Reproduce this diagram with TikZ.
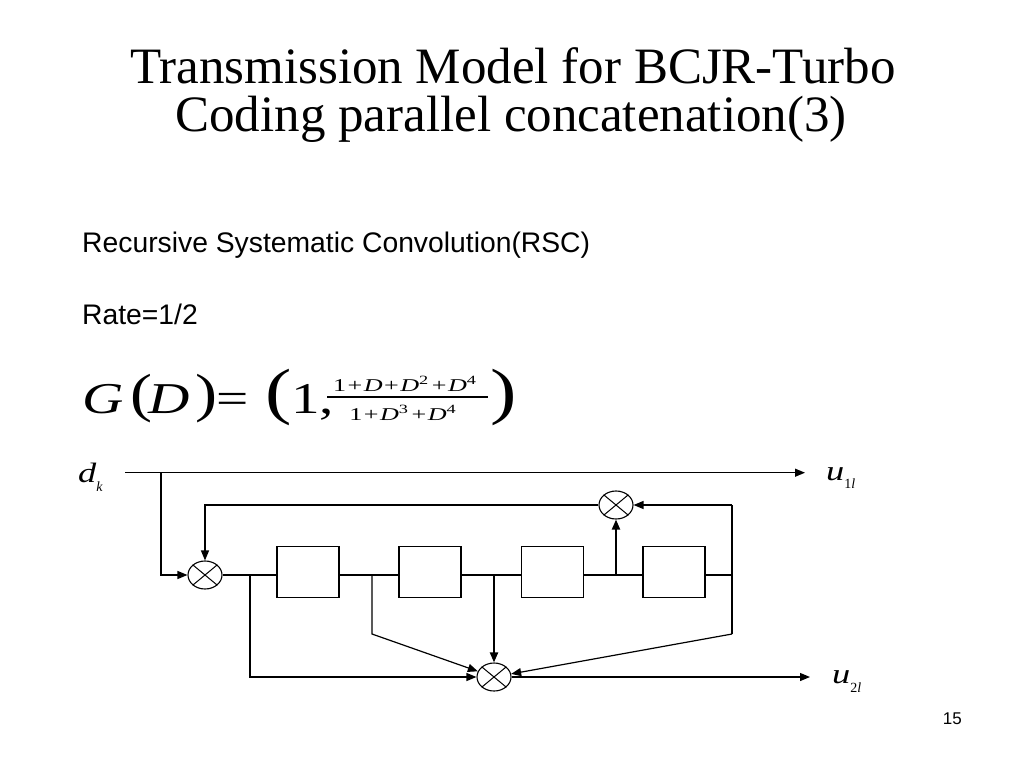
\documentclass[tikz,border=0pt]{standalone}
\usepackage{fontspec}
\setmainfont{Liberation Serif}
\newfontfamily\arialf{Liberation Sans}
\usepackage{graphicx}
\usetikzlibrary{shapes.geometric,arrows.meta}
\newcommand{\eqf}{\fontsize{44}{44}\selectfont}
\newcommand{\frf}{\fontsize{18}{18}\selectfont}
\newcommand{\lblf}{\fontsize{28}{28}\selectfont}
\newcommand{\subf}{\fontsize{14}{14}\selectfont}
\begin{document}
\begin{tikzpicture}[x=1pt,y=-1pt,
  wire/.style={line width=1.2pt, draw=black},
  thickwire/.style={line width=2pt, draw=black},
  arr/.style={-{Triangle[length=10pt,width=8pt]}},
  xorop/.style={draw, ellipse, line width=1.1pt, minimum width=34pt, minimum height=28pt, inner sep=0pt},
  reg/.style={draw, rectangle, line width=1.4pt, minimum width=62pt, minimum height=51pt, inner sep=0pt},
  txt/.style={inner sep=0pt, anchor=base west},
  ctxt/.style={inner sep=0pt, anchor=base}]
\useasboundingbox[fill=white] (0,0) rectangle (1024,768);

% title
\node[ctxt] (t1) at (513,83) {\fontsize{51}{51}\selectfont Transmission Model for BCJR-Turbo};
\node[ctxt] (t2) at (511,131) {\fontsize{51}{51}\selectfont Coding parallel concatenation(3)};

% body text
\node[txt] (rsc) at (82,252) {\arialf\fontsize{28.3}{28.3}\selectfont Recursive Systematic Convolution(RSC)};
\node[txt] (rate) at (82,324) {\arialf\fontsize{28.3}{28.3}\selectfont Rate=1/2};

% equation
\node[txt] (eqG) at (82,413) {\eqf\scalebox{1.3}[1]{\itshape G}};
\node[txt] (eqp1) at (130,411) {\eqf\scalebox{1.5}[1.22]{(}};
\node[txt] (eqD) at (148,413) {\eqf\scalebox{1.3}[1]{\itshape D}};
\node[txt] (eqp2) at (195,411) {\eqf\scalebox{1.5}[1.22]{)}};
\node[txt] (eqeq) at (216,413) {\eqf\scalebox{1.3}[1]{=}};
\node[txt] (eqP1) at (265,412) {\eqf\scalebox{1.8}[1.42]{(}};
\node[txt] (eqone) at (291,413) {\eqf\scalebox{1.3}[1]{1,}};
\node[ctxt] (num) at (405,391) {\frf\scalebox{1.45}[1]{1\kern1pt+\kern1pt\textit{D}\kern1pt+\kern1pt\textit{D}\textsuperscript{2}\kern2pt+\kern1pt\textit{D}\textsuperscript{4}}};
\node[ctxt] (den) at (403,420) {\frf\scalebox{1.45}[1]{1\kern1pt+\kern1pt\textit{D}\textsuperscript{3}\kern2pt+\kern1pt\textit{D}\textsuperscript{4}}};
\coordinate (barl) at (327,397);
\coordinate (barr) at (488,397);
\draw[line width=1.2pt] (barl) -- (barr);
\node[txt] (eqP2) at (490,412) {\eqf\scalebox{1.8}[1.42]{)}};

% labels
\node[txt] (dk) at (78,482) {\lblf\scalebox{1.3}[1]{\itshape d}\raisebox{-9pt}{\subf\itshape k}};
\node[txt] (u1) at (826,480) {\lblf\scalebox{1.3}[1]{\itshape u}\raisebox{-8pt}{\subf 1\itshape l}};
\node[txt] (u2) at (832,683) {\lblf\scalebox{1.3}[1]{\itshape u}\raisebox{-9pt}{\subf 2\itshape l}};

% page number
\node[inner sep=0pt, anchor=base east] (pg) at (962,724) {\arialf\fontsize{17}{17}\selectfont 15};

% diagram nodes
\node[xorop] (c1) at (205,575) {};
\node[xorop] (ct) at (616,505) {};
\node[xorop] (cb) at (494,677) {};
\foreach \c in {c1,ct,cb}{
  \draw[line width=1pt] (\c.north west) -- (\c.south east) (\c.north east) -- (\c.south west);
}
\node[reg] (b1) at (308,572) {};
\node[reg] (b2) at (430,572) {};
\node[reg] (b3) at (552.5,572) {};
\node[reg] (b4) at (674,572) {};

\coordinate (din) at (125,472.7);
\coordinate (uout) at (805,472.7);
\coordinate (dtap) at (161,472.7);
\coordinate (fb) at (205,505);
\coordinate (t0) at (250,575);
\coordinate (t1) at (372,575);
\coordinate (t1d) at (372,634);
\coordinate (t2) at (494,575);
\coordinate (t3) at (616,575);
\coordinate (t4) at (732,575);
\coordinate (t4u) at (732,505);
\coordinate (t4d) at (732,634);
\coordinate (vout) at (810,677);

% connectors
\draw[wire,arr] (din) -- (uout);
\draw[wire,arr] (dtap) |- (c1.west);
\draw[wire,arr] (ct.west) -- (fb) -- (c1.north);
\draw[wire] (c1.east) -- (b1.west |- c1.east);
\draw[wire] (b1.east |- c1) -- (b2.west |- c1);
\draw[wire] (b2.east |- c1) -- (b3.west |- c1);
\draw[wire] (b3.east |- c1) -- (b4.west |- c1);
\draw[wire] (b4.east |- c1) -- (t4);
\draw[wire] (t4u) -- (t4d);
\draw[wire,arr] (t4u) -- (ct.east);
\draw[wire,arr] (t4d) -- (cb);
\draw[wire,arr] (t0) |- (cb.west);
\draw[wire,arr] (t1) -- (t1d) -- (cb);
\draw[thickwire,arr] (t2) -- (cb.north);
\draw[thickwire,arr] (t3) -- (ct.south);
\draw[wire,arr] (cb.east) -- (vout);
\end{tikzpicture}
\end{document}
